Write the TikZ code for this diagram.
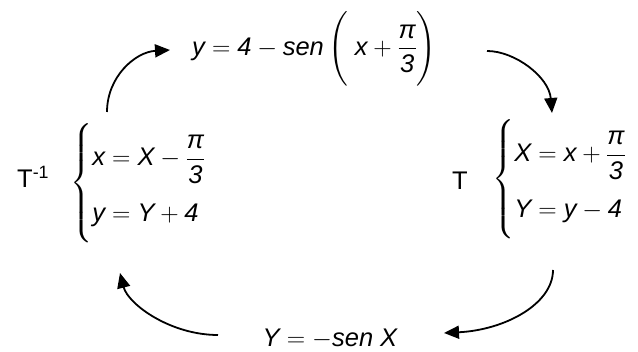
\documentclass[tikz,border=0pt]{standalone}
\usepackage{fix-cm}
\usepackage{amsmath}
\usepackage{fontspec}
\setmainfont{Liberation Sans}
\usepackage{tikz}
\usetikzlibrary{arrows.meta,positioning}
\newcommand{\vi}[1]{\textit{#1}}
\newcommand{\pithird}{\dfrac{\vi{π}}{\vi{3}}}
\newcommand{\bracestrut}{\rule[-50pt]{0pt}{110pt}}
\tikzset{
  >={Triangle[length=15pt,width=13pt]},
  every node/.style={font=\fontsize{25.5}{30}\selectfont,inner sep=0pt,text=black},
  eq/.style={anchor=west},
  tlabel/.style={anchor=base west},
  cyc/.style={->,line width=1.8pt,draw=black}
}

\begin{document}
\begin{tikzpicture}[x=1pt,y=1pt]
  \useasboundingbox (0,0) rectangle (638,352);
  % the four equations
  \node[eq] (top) at (192,303) {$\vi{y} = \vi{4} - \vi{sen}\left(\rule[-28pt]{0pt}{68pt}\;\vi{x} + \pithird\right)$};
  \node[eq] (inv) at (70,169) {$\left\{\bracestrut\begin{array}{@{}l@{}} \vi{x} = \vi{X} - \pithird \\[26pt] \vi{y} = \vi{Y} + \vi{4} \end{array}\right.$};
  \node[eq] (fwd) at (492,173) {$\left\{\bracestrut\begin{array}{@{}l@{}} \vi{X} = \vi{x} + \pithird \\[26pt] \vi{Y} = \vi{y} - \vi{4} \end{array}\right.$};
  \node[anchor=base] (bot) at (330,5) {$\vi{Y} = -\vi{sen}\ \vi{X}$};

  % transformation labels
  \node[tlabel] (tinv) at (17,164) {T\textsuperscript{-1}};
  \node[tlabel] (tfwd) at (452,162) {T};

  % arrow ends
  \coordinate (tl-a) at (107,240); \coordinate (tl-b) at (170,302);
  \coordinate (tr-a) at (487,301); \coordinate (tr-b) at (552,239);
  \coordinate (br-a) at (553,82);  \coordinate (br-b) at (444,19);
  \coordinate (bl-a) at (218,17);  \coordinate (bl-b) at (120,79);

  \draw[cyc] (tl-a) .. controls (107,275) and (135,300) .. (tl-b);
  \draw[cyc] (tr-a) .. controls (515,301) and (549,275) .. (tr-b);
  \draw[cyc] (br-a) .. controls (553,48) and (505,22) .. (br-b);
  \draw[cyc] (bl-a) .. controls (170,17) and (128,48) .. (bl-b);
\end{tikzpicture}
\end{document}
